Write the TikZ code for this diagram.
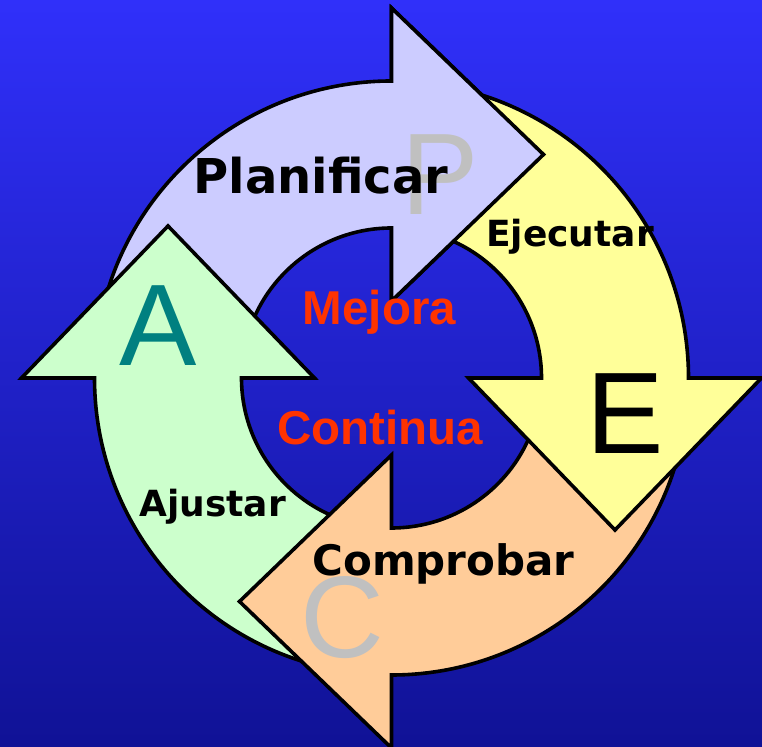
\documentclass[tikz,border=0pt]{standalone}
\usepackage{fontspec}
\usepackage{xcolor}
\usepackage{tikz}
\usetikzlibrary{calc}
\newfontfamily\phasefont{DejaVu Sans}
\newfontfamily\letterfont{Liberation Sans}
\definecolor{bgtop}{RGB}{48,48,250}
\definecolor{bgbottom}{RGB}{16,18,150}
\definecolor{plancolor}{RGB}{204,204,255}
\definecolor{execcolor}{RGB}{255,255,153}
\definecolor{checkcolor}{RGB}{255,204,153}
\definecolor{adjustcolor}{RGB}{204,255,204}
\definecolor{mejorared}{RGB}{255,51,0}
\definecolor{lettergray}{RGB}{192,192,192}
\definecolor{letterteal}{RGB}{0,128,128}

% one arrow of the cycle: head at 90 degrees, running clockwise
\newcommand{\cyclepath}{(170:297pt) arc (170:90:297pt) -- (0pt,370pt) -- (152pt,223.5pt) -- (0pt,77pt) -- (0pt,150pt) arc (90:170:150pt) -- cycle}

\begin{document}
\begin{tikzpicture}[
    x=1pt, y=1pt,
    ring/.style={draw=black, line width=3.6pt, line join=miter},
    phase/.style={font=\phasefont\bfseries\fontsize{#1}{#1}\selectfont, text=black, inner sep=0pt, anchor=base},
    letter/.style={font=\letterfont\fontsize{116}{116}\selectfont, inner sep=0pt, anchor=base},
    motto/.style={font=\letterfont\bfseries\fontsize{47.5}{47.5}\selectfont, text=mejorared, inner sep=0pt, anchor=base},
]
\useasboundingbox (0,0) rectangle (762,746);
\shade[top color=bgtop, bottom color=bgbottom] (0,0) rectangle (762,746);

% arrows: plan, adjust, check, execute (each tail under the next head)
\foreach \ang/\col in {0/plancolor, 90/adjustcolor, 180/checkcolor, -90/execcolor} {
  \begin{scope}[shift={(391.5,368)}, rotate=\ang]
    \filldraw[ring, fill=\col] \cyclepath;
  \end{scope}
}
% plan head again, over the tail of the execute arrow
\begin{scope}[shift={(391.5,368)}]
  \clip (-2.5,0) rectangle (200,400);
  \filldraw[ring, fill=plancolor] \cyclepath;
\end{scope}

\node[letter, text=lettergray] (pletter) at (440,531) {P};
\node[phase=48] (plan) at (321,552) {Planificar};
\node[phase=36] (exec) at (570,499) {Ejecutar};
\node[letter, text=black] (eletter) at (625,292) {E};
\node[letter, text=lettergray] (cletter) at (342,88) {C};
\node[phase=42] (check) at (443.5,170) {Comprobar};
\node[phase=36] (adjust) at (212.5,229) {Ajustar};
\node[letter, text=letterteal] (aletter) at (158.5,380) {A};

\node[motto] (mejora) at (379.5,421) {Mejora};
\node[motto] (continua) at (380,301) {Continua};

\end{tikzpicture}
\end{document}
